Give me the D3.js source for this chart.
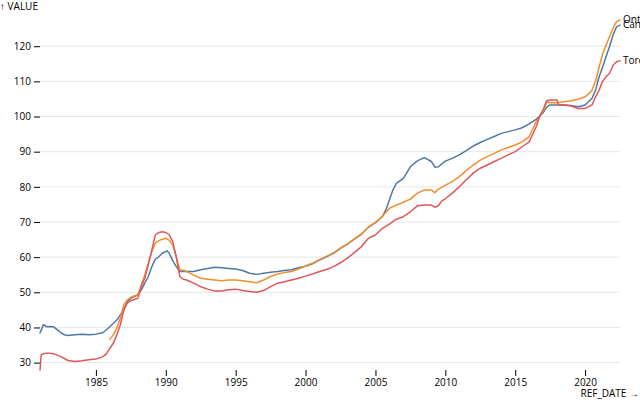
<!DOCTYPE html>
<html>
<head>
<meta charset="utf-8">
<script src="https://cdn.jsdelivr.net/npm/d3@7"></script>
<style>
  body { margin: 0; background: #fff; }
  svg, svg text { font-family: "Open Sans", "Noto Sans", sans-serif; font-size: 10px; }
</style>
</head>
<body>
<div id="chart"></div>
<script>
// New housing price index, quarterly-ish readings
const canada = [
  ["1981-01", 38.4], ["1981-04", 40.8], ["1981-07", 40.2], ["1981-10", 40.3],
  ["1982-01", 40.1], ["1982-04", 39.3], ["1982-07", 38.5], ["1982-10", 37.9],
  ["1983-01", 37.7], ["1983-07", 37.9], ["1984-01", 38.1], ["1984-07", 37.9],
  ["1985-01", 38.1], ["1985-07", 38.5], ["1986-01", 40.2], ["1986-07", 42.1],
  ["1986-10", 43.6], ["1987-01", 45.0], ["1987-04", 47.3], ["1987-07", 48.3],
  ["1988-01", 49.3], ["1988-04", 50.7], ["1988-07", 52.6], ["1988-10", 54.5],
  ["1989-01", 57.3], ["1989-04", 59.4], ["1989-07", 60.1], ["1989-10", 61.1],
  ["1990-02", 61.8], ["1990-04", 61.1], ["1990-07", 59.0], ["1990-10", 57.3],
  ["1991-01", 55.9], ["1991-07", 55.9], ["1992-01", 55.9], ["1992-07", 56.4],
  ["1993-01", 56.8], ["1993-07", 57.1], ["1994-01", 57.0], ["1994-07", 56.8],
  ["1995-01", 56.6], ["1995-07", 56.2], ["1996-01", 55.4], ["1996-07", 55.1],
  ["1997-01", 55.4], ["1997-07", 55.7], ["1998-01", 55.9], ["1998-07", 56.2],
  ["1999-01", 56.4], ["1999-07", 57.0], ["2000-01", 57.4], ["2000-07", 58.1],
  ["2001-01", 59.2], ["2001-07", 60.1], ["2002-01", 61.1], ["2002-07", 62.5],
  ["2003-01", 63.7], ["2003-07", 65.1], ["2004-01", 66.5], ["2004-07", 68.5],
  ["2005-01", 69.8], ["2005-07", 71.5], ["2005-10", 73.5], ["2006-01", 76.3],
  ["2006-04", 79.1], ["2006-07", 81.0], ["2007-01", 82.4], ["2007-07", 85.7],
  ["2008-01", 87.4], ["2008-07", 88.3], ["2009-01", 87.2], ["2009-04", 85.6],
  ["2009-07", 85.7], ["2010-01", 87.3], ["2010-07", 88.1], ["2011-01", 89.1],
  ["2011-07", 90.3], ["2012-01", 91.6], ["2012-07", 92.6], ["2013-01", 93.5],
  ["2013-07", 94.3], ["2014-01", 95.2], ["2014-07", 95.7], ["2015-01", 96.2],
  ["2015-07", 96.8], ["2016-01", 97.9], ["2016-07", 99.2], ["2016-10", 100.1],
  ["2017-01", 101.1], ["2017-04", 102.6], ["2017-07", 103.3], ["2018-01", 103.3],
  ["2018-07", 103.3], ["2019-01", 103.1], ["2019-07", 102.8], ["2020-01", 103.3],
  ["2020-04", 104.2], ["2020-07", 105.2], ["2020-10", 107.5], ["2021-01", 111.3],
  ["2021-04", 114.0], ["2021-07", 117.0], ["2021-10", 119.9], ["2022-01", 123.2],
  ["2022-04", 125.5], ["2022-07", 126.0]
];
const ontario = [
  ["1986-01", 36.6], ["1986-04", 37.9], ["1986-07", 39.8], ["1986-10", 42.6],
  ["1987-01", 46.4], ["1987-04", 47.8], ["1987-07", 48.6], ["1988-01", 49.3],
  ["1988-04", 52.1], ["1988-07", 54.9], ["1988-10", 58.3], ["1989-01", 61.6],
  ["1989-04", 63.9], ["1989-07", 64.7], ["1989-10", 65.1], ["1990-01", 65.4],
  ["1990-04", 64.8], ["1990-07", 63.5], ["1990-10", 60.1], ["1991-01", 56.4],
  ["1991-04", 56.3], ["1991-07", 55.9], ["1992-01", 54.9], ["1992-07", 54.0],
  ["1993-01", 53.7], ["1993-07", 53.5], ["1994-01", 53.3], ["1994-07", 53.5],
  ["1995-01", 53.5], ["1995-07", 53.3], ["1996-01", 53.0], ["1996-07", 52.7],
  ["1997-01", 53.5], ["1997-07", 54.5], ["1998-01", 55.2], ["1998-07", 55.6],
  ["1999-01", 55.9], ["1999-07", 56.6], ["2000-01", 57.5], ["2000-07", 58.3],
  ["2001-01", 59.3], ["2001-07", 60.2], ["2002-01", 61.2], ["2002-07", 62.6],
  ["2003-01", 63.8], ["2003-07", 65.2], ["2004-01", 66.6], ["2004-07", 68.6],
  ["2005-01", 69.9], ["2005-07", 71.6], ["2006-01", 73.9], ["2006-07", 74.8],
  ["2007-01", 75.6], ["2007-07", 76.5], ["2008-01", 78.2], ["2008-07", 79.1],
  ["2009-01", 79.1], ["2009-04", 78.3], ["2009-07", 79.3], ["2010-01", 80.5],
  ["2010-07", 81.5], ["2011-01", 82.9], ["2011-07", 84.6], ["2012-01", 86.2],
  ["2012-07", 87.6], ["2013-01", 88.6], ["2013-07", 89.5], ["2014-01", 90.5],
  ["2014-07", 91.2], ["2015-01", 91.9], ["2015-07", 92.8], ["2016-01", 94.3],
  ["2016-07", 98.5], ["2016-10", 100.1], ["2017-01", 101.4], ["2017-04", 104.2],
  ["2017-07", 103.9], ["2018-01", 103.9], ["2018-07", 104.2], ["2019-01", 104.5],
  ["2019-07", 104.9], ["2020-01", 105.6], ["2020-04", 106.4], ["2020-07", 107.5],
  ["2020-10", 110.1], ["2021-01", 114.0], ["2021-04", 117.7], ["2021-07", 120.3],
  ["2021-10", 122.7], ["2022-01", 125.1], ["2022-04", 127.0], ["2022-07", 127.45]
];
const toronto = [
  ["1981-01", 27.9], ["1981-02", 32.2], ["1981-04", 32.5], ["1981-07", 32.7],
  ["1982-01", 32.5], ["1982-07", 31.7], ["1983-01", 30.6], ["1983-07", 30.3],
  ["1984-01", 30.5], ["1984-07", 30.8], ["1985-01", 31.0], ["1985-07", 31.7],
  ["1985-10", 32.5], ["1986-01", 34.1], ["1986-04", 35.5], ["1986-07", 37.9],
  ["1986-10", 40.7], ["1987-01", 45.0], ["1987-04", 46.9], ["1987-07", 47.6],
  ["1988-01", 48.3], ["1988-04", 51.6], ["1988-07", 54.0], ["1988-10", 57.8],
  ["1989-01", 62.0], ["1989-04", 66.3], ["1989-07", 67.0], ["1989-10", 67.2],
  ["1990-01", 67.0], ["1990-04", 66.4], ["1990-07", 64.4], ["1990-10", 60.1],
  ["1991-01", 54.5], ["1991-04", 53.7], ["1991-07", 53.5], ["1992-01", 52.6],
  ["1992-07", 51.6], ["1993-01", 50.9], ["1993-07", 50.4], ["1994-01", 50.4],
  ["1994-07", 50.7], ["1995-01", 50.9], ["1995-07", 50.5], ["1996-01", 50.2],
  ["1996-07", 50.0], ["1997-01", 50.5], ["1997-07", 51.6], ["1998-01", 52.6],
  ["1998-07", 53.0], ["1999-01", 53.5], ["1999-07", 54.0], ["2000-01", 54.6],
  ["2000-07", 55.2], ["2001-01", 55.9], ["2001-07", 56.5], ["2002-01", 57.3],
  ["2002-07", 58.4], ["2003-01", 59.7], ["2003-07", 61.3], ["2004-01", 63.0],
  ["2004-07", 65.4], ["2005-01", 66.3], ["2005-07", 68.2], ["2006-01", 69.4],
  ["2006-07", 70.8], ["2007-01", 71.5], ["2007-07", 72.9], ["2008-01", 74.6],
  ["2008-07", 74.8], ["2009-01", 74.8], ["2009-04", 74.2], ["2009-07", 74.6],
  ["2009-10", 76.0], ["2010-01", 76.6], ["2010-07", 78.2], ["2011-01", 80.0],
  ["2011-07", 82.0], ["2012-01", 83.9], ["2012-07", 85.3], ["2013-01", 86.2],
  ["2013-07", 87.2], ["2014-01", 88.1], ["2014-07", 89.1], ["2015-01", 90.0],
  ["2015-07", 91.4], ["2016-01", 92.8], ["2016-07", 97.1], ["2016-10", 100.1],
  ["2017-01", 102.0], ["2017-04", 104.5], ["2017-07", 104.7], ["2018-01", 104.7],
  ["2018-02", 103.3], ["2018-07", 103.3], ["2019-01", 103.0], ["2019-07", 102.3],
  ["2020-01", 102.3], ["2020-04", 102.8], ["2020-07", 103.3], ["2020-10", 105.6],
  ["2021-01", 107.5], ["2021-04", 110.0], ["2021-07", 111.3], ["2021-10", 112.3],
  ["2022-01", 114.6], ["2022-04", 115.6], ["2022-07", 115.9]
];

const geoNames = ["Canada", "Ontario", "Toronto"];
const colors = ["#4e79a7", "#f28e2c", "#e15759"];
const yLabel = "↑ VALUE";
const xLabel = "REF_DATE →";

const width = 640, height = 400;
const margin = {top: 20, right: 20, bottom: 30, left: 40};

const parse = d3.timeParse("%Y-%m");
const series = [canada, ontario, toronto].map((arr, i) => ({
  name: geoNames[i],
  color: colors[i],
  values: arr.map(d => ({date: parse(d[0]), value: d[1]}))
}));
const all = series.flatMap(s => s.values);

const x = d3.scaleUtc()
  .domain(d3.extent(all, d => d.date))
  .range([margin.left, width - margin.right]);
const y = d3.scaleLinear()
  .domain(d3.extent(all, d => d.value))
  .range([height - margin.bottom, margin.top]);

const svg = d3.select("#chart")
  .append("svg")
    .attr("width", width)
    .attr("height", height)
    .attr("viewBox", [0, 0, width, height]);

// grid
svg.append("g")
  .attr("stroke", "#000")
  .attr("stroke-opacity", 0.1)
  .selectAll("line")
  .data(y.ticks())
  .join("line")
    .attr("x1", margin.left)
    .attr("x2", width - margin.right)
    .attr("y1", d => y(d))
    .attr("y2", d => y(d));

// y axis
svg.append("g")
  .attr("transform", `translate(${margin.left},0)`)
  .call(d3.axisLeft(y).tickSize(6).tickPadding(3))
  .attr("font-family", null)
  .attr("font-size", null)
  .call(g => g.select(".domain").remove());

svg.append("text")
  .attr("x", 0)
  .attr("y", 10)
  .attr("fill", "#000")
  .text(yLabel);

// x axis
svg.append("g")
  .attr("transform", `translate(0,${height - margin.bottom})`)
  .call(d3.axisBottom(x).ticks(d3.utcYear.every(5)).tickFormat(d3.utcFormat("%Y")).tickSize(6).tickPadding(3))
  .attr("font-family", null)
  .attr("font-size", null)
  .call(g => g.select(".domain").remove());

svg.append("text")
  .attr("x", width - 1)
  .attr("y", height - 3)
  .attr("text-anchor", "end")
  .attr("fill", "#000")
  .text(xLabel);

// lines
const line = d3.line()
  .x(d => x(d.date))
  .y(d => y(d.value));

svg.append("g")
  .attr("fill", "none")
  .attr("stroke-width", 1.5)
  .attr("stroke-linejoin", "round")
  .attr("stroke-linecap", "round")
  .selectAll("path")
  .data(series)
  .join("path")
    .attr("stroke", d => d.color)
    .attr("d", d => line(d.values));

// end labels
svg.append("g")
  .selectAll("text")
  .data(series)
  .join("text")
    .attr("x", d => x(d.values[d.values.length - 1].date) + 3)
    .attr("y", d => y(d.values[d.values.length - 1].value))
    .attr("dy", "0.32em")
    .attr("fill", "#000")
    .text(d => d.name);
</script>
</body>
</html>
